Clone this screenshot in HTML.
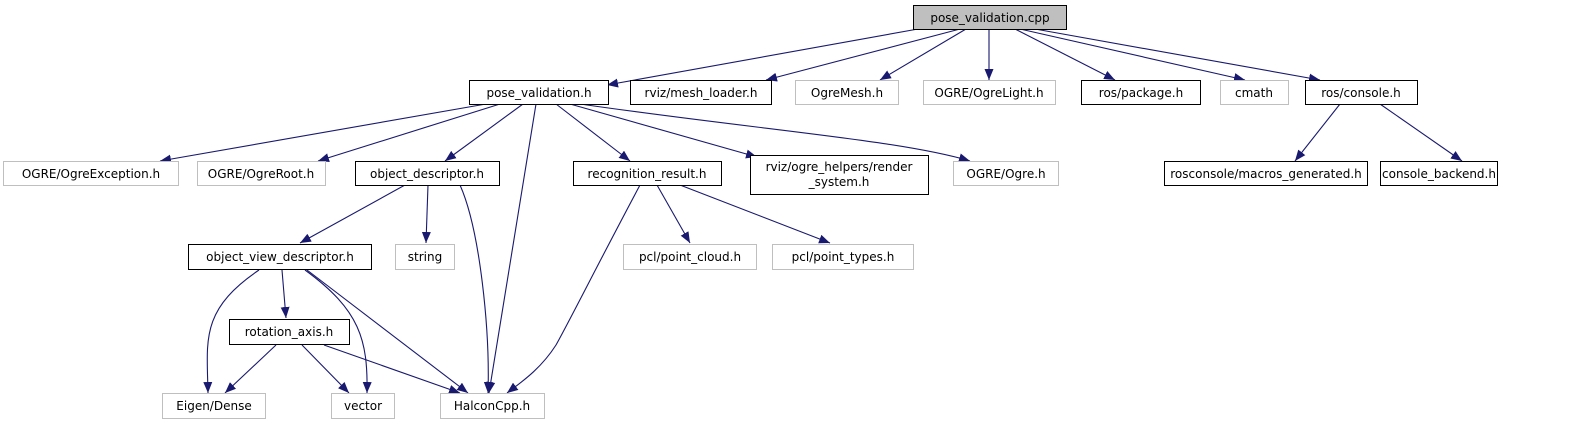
<!DOCTYPE html>
<html><head><meta charset="utf-8"><style>
html,body{margin:0;padding:0;background:#fff;width:1579px;height:425px;overflow:hidden}
svg{display:block}
text{font-family:"DejaVu Sans","Liberation Sans",sans-serif;font-size:12px;fill:#000}
</style></head><body>
<svg width="1579" height="425" viewBox="0 0 1579 425">
<defs><marker id="a" markerWidth="11" markerHeight="9" refX="11" refY="4.5" orient="auto" markerUnits="userSpaceOnUse"><path d="M0,0 L11,4.5 L0,9 z" fill="#191970"/></marker></defs>
<g fill="none" stroke="#191970" stroke-width="1.1" marker-end="url(#a)">
<path d="M918,29 L607,85"/>
<path d="M960,29 L766,80"/>
<path d="M966,29 L880,80"/>
<path d="M989,29 L989,80"/>
<path d="M1015,29 L1115,80"/>
<path d="M1020,29 L1245,80"/>
<path d="M1035,29 L1320,80"/>
<path d="M1340,104 L1295,161"/>
<path d="M1380,104 L1462,161"/>
<path d="M486,104 L160,161"/>
<path d="M500,104 L318,161"/>
<path d="M523,104 L445,161"/>
<path d="M536,104 L489,393"/>
<path d="M556,104 L630,161"/>
<path d="M570,104 L757,157"/>
<path d="M580,104 C760,130 900,140 970,161"/>
<path d="M405,185 L300,243"/>
<path d="M428,185 L426,243"/>
<path d="M460,185 C480,230 490,330 488,393"/>
<path d="M640,185 C600,260 570,320 556,345 C540,370 520,383 507,393"/>
<path d="M657,185 L690,243"/>
<path d="M680,185 L830,243"/>
<path d="M259,270 C200,310 207,340 208,393"/>
<path d="M282,270 L286,318"/>
<path d="M305,270 C360,310 368,340 367,393"/>
<path d="M307,270 L468,393"/>
<path d="M276,345 L225,393"/>
<path d="M302,345 L349,393"/>
<path d="M324,345 L460,393"/>
</g>
<g stroke-width="1" fill="#fff">
<rect x="913.5" y="5.5" width="153" height="24" fill="#bfbfbf" stroke="#000"/>
<rect x="469.5" y="80.5" width="139" height="24" stroke="#000"/>
<rect x="630.5" y="80.5" width="141" height="24" stroke="#000"/>
<rect x="795.5" y="80.5" width="103" height="24" stroke="#bfbfbf"/>
<rect x="923.5" y="80.5" width="132" height="24" stroke="#bfbfbf"/>
<rect x="1081.5" y="80.5" width="119" height="24" stroke="#000"/>
<rect x="1220.5" y="80.5" width="68" height="24" stroke="#bfbfbf"/>
<rect x="1305.5" y="80.5" width="112" height="24" stroke="#000"/>
<rect x="3.5" y="161.5" width="175" height="24" stroke="#bfbfbf"/>
<rect x="197.5" y="161.5" width="128" height="24" stroke="#bfbfbf"/>
<rect x="355.5" y="161.5" width="144" height="24" stroke="#000"/>
<rect x="573.5" y="161.5" width="148" height="24" stroke="#000"/>
<rect x="750.5" y="155.5" width="178" height="39" stroke="#000"/>
<rect x="953.5" y="161.5" width="105" height="24" stroke="#bfbfbf"/>
<rect x="1164.5" y="161.5" width="203" height="24" stroke="#000"/>
<rect x="1380.5" y="161.5" width="117" height="24" stroke="#000"/>
<rect x="188.5" y="244.5" width="183" height="25" stroke="#000"/>
<rect x="395.5" y="244.5" width="59" height="25" stroke="#bfbfbf"/>
<rect x="623.5" y="244.5" width="133" height="25" stroke="#bfbfbf"/>
<rect x="772.5" y="244.5" width="141" height="25" stroke="#bfbfbf"/>
<rect x="229.5" y="319.5" width="120" height="25" stroke="#000"/>
<rect x="162.5" y="393.5" width="103" height="25" stroke="#bfbfbf"/>
<rect x="331.5" y="393.5" width="63" height="25" stroke="#bfbfbf"/>
<rect x="440.5" y="393.5" width="104" height="25" stroke="#bfbfbf"/>
</g>
<g text-anchor="middle">
<text x="990" y="22">pose_validation.cpp</text>
<text x="539" y="97">pose_validation.h</text>
<text x="701" y="97">rviz/mesh_loader.h</text>
<text x="847" y="97">OgreMesh.h</text>
<text x="989" y="97">OGRE/OgreLight.h</text>
<text x="1141" y="97">ros/package.h</text>
<text x="1254" y="97">cmath</text>
<text x="1361" y="97">ros/console.h</text>
<text x="91" y="178">OGRE/OgreException.h</text>
<text x="261" y="178">OGRE/OgreRoot.h</text>
<text x="427" y="178">object_descriptor.h</text>
<text x="647" y="178">recognition_result.h</text>
<text x="839" y="171">rviz/ogre_helpers/render</text>
<text x="839" y="186">_system.h</text>
<text x="1006" y="178">OGRE/Ogre.h</text>
<text x="1266" y="178">rosconsole/macros_generated.h</text>
<text x="1439" y="178">console_backend.h</text>
<text x="280" y="261">object_view_descriptor.h</text>
<text x="425" y="261">string</text>
<text x="690" y="261">pcl/point_cloud.h</text>
<text x="843" y="261">pcl/point_types.h</text>
<text x="289" y="336">rotation_axis.h</text>
<text x="214" y="410">Eigen/Dense</text>
<text x="363" y="410">vector</text>
<text x="492" y="410">HalconCpp.h</text>
</g>
</svg>
</body></html>
